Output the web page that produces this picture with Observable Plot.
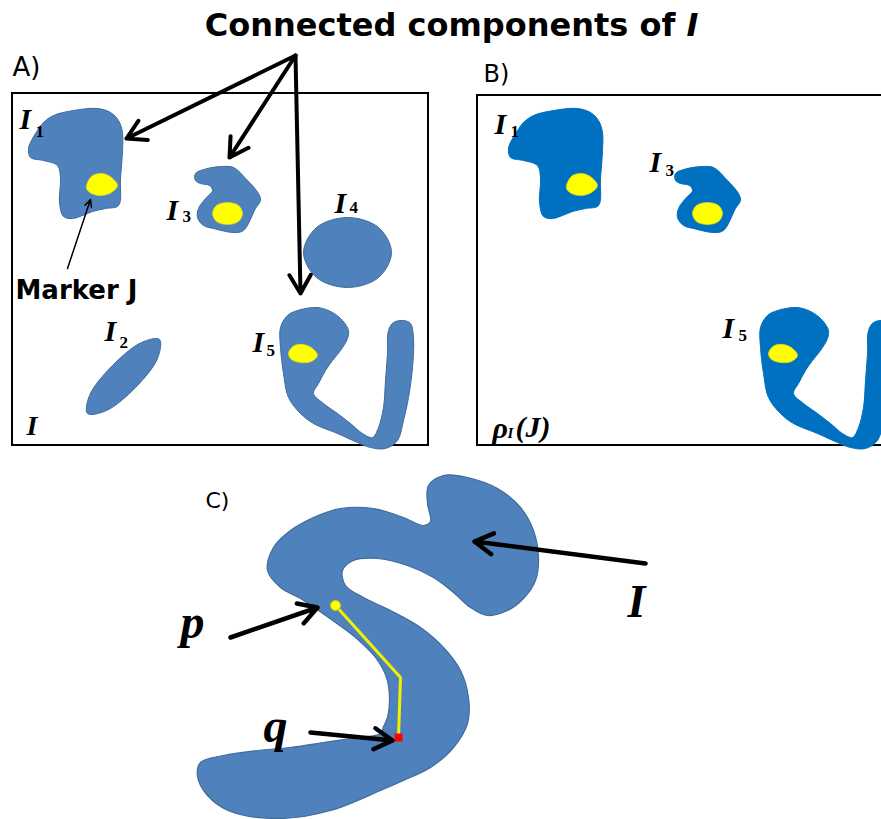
<!DOCTYPE html>
<html><head><meta charset="utf-8">
<script src="https://cdn.jsdelivr.net/npm/d3@7"></script>
<script src="https://cdn.jsdelivr.net/npm/@observablehq/plot@0.6"></script>
<style>html,body{margin:0;padding:0;background:#fff;} #chart svg{display:block;}</style>
</head><body><div id="chart"></div>
<script>
const W = 881, H = 819;

// ---- Panel A component outlines ----
const shapeI1 = [[37,130],[43,122],[53,115],[73,110],[97,108],[110,112],[118,120],[122,132],[122,150],[120,178],[118,205],[105,208],[92,211],[82,215],[72,218],[63,216],[59,202],[60,178],[57,165],[43,160],[30,157],[28,148],[32,138]];
const shapeI2 = [[159,339],[157,358],[135,387],[106,410],[87,413],[89,395],[112,365],[141,342]];
const shapeI3 = [[195,173],[207,168],[222,166],[233,167],[247,180],[258,193],[260,200],[255,208],[243,230],[233,232],[213,228],[203,225],[197,217],[198,208],[205,198],[212,190],[209,185],[200,183],[195,180]];
const shapeI4 = [[303,252],[316,227],[347,217],[378,227],[391,252],[378,277],[347,287],[316,277]];
const shapeI5 = [[297,310],[317,307],[332,312],[342,320],[348,330],[347,338],[340,350],[332,360],[325,370],[318,383],[313,393],[323,403],[337,413],[350,423],[362,433],[372,437],[378,427],[383,407],[385,380],[387,353],[388,330],[393,322],[403,320],[410,323],[413,337],[412,367],[408,397],[403,420],[397,440],[385,448],[370,447],[357,442],[337,433],[313,423],[300,413],[288,397],[283,373],[280,347],[280,327],[287,315]];
// markers J (yellow)
const markerJ1 = [[87,182],[92,175],[102,173],[111,177],[117,185],[111,192],[101,195],[91,193],[86,188]];
const markerJ3 = [[212,213],[216,205],[227,202],[238,205],[242,213],[238,221],[227,224],[216,221]];
const markerJ5 = [[289,350],[294,345],[303,344],[312,348],[317,355],[311,361],[300,362],[291,359],[288,354]];
// Panel B shows I1, I3, I5 shifted right
const panelBShift = 480;

// ---- Panel C: S-shaped component ----
const shapeS = [[267,570],[273,547],[290,530],[313,517],[340,508],[373,508],[403,517],[423,525],[430,521],[427,503],[428,485],[443,475],[467,477],[497,488],[520,507],[533,530],[538,557],[535,580],[523,598],[507,610],[487,615],[470,607],[453,592],[433,577],[407,565],[377,558],[353,560],[342,570],[345,585],[363,597],[390,610],[420,627],[443,647],[460,670],[468,697],[467,723],[453,747],[430,767],[403,780],[380,790],[330,810],[280,818],[230,811],[207,795],[197,776],[200,762],[223,755],[257,750],[290,747],[323,742],[357,737],[380,733],[383,726],[387,717],[389,697],[386,677],[375,657],[355,637],[335,622],[318,610],[300,598],[280,587]];
const pathPQ = [[335,605],[400,677],[398,737]];
const pointP = [[335,605]];
const pointQ = [[398,737]];

// ---- boxes, arrows, texts ----
const boxes = [{x1:12,y1:93,x2:428,y2:445},{x1:477,y1:95,x2:895,y2:445}];
const titleArrows = [{x1:295,y1:55,x2:126,y2:138},{x1:295,y1:55,x2:229,y2:157},{x1:295,y1:55,x2:300,y2:293}];
const markerArrow = [{x1:67,y1:268,x2:90,y2:199}];
const cArrows = [{x1:645,y1:563,x2:474,y2:541},{x1:230,y1:637,x2:317,y2:607},{x1:310,y1:732,x2:392,y2:740}];

const title = [{x:686,y:25,text:"Connected components of "}];
const titleItalic = [{x:686,y:25,text:"I"}];
const panelLetters = [{x:12,y:67,text:"A)",size:26},{x:483,y:74,text:"B)",size:24},{x:205,y:500,text:"C)",size:22}];
const markerText = [{x:15,y:290,text:"Marker J"}];
const compLabels = [
  {x:19,y:119,text:"I",sub:"1",sx:35,sy:131},
  {x:104,y:331,text:"I",sub:"2",sx:119,sy:342},
  {x:166,y:210,text:"I",sub:"3",sx:182,sy:216},
  {x:334,y:203,text:"I",sub:"4",sx:349,sy:207},
  {x:252,y:342,text:"I",sub:"5",sx:266,sy:350},
  {x:494,y:124,text:"I",sub:"1",sx:510,sy:131},
  {x:649,y:162,text:"I",sub:"3",sx:665,sy:170},
  {x:722,y:328,text:"I",sub:"5",sx:738,sy:335}
];
const bigLabels = [{x:26,y:426,text:"I",size:28},{x:627,y:602,text:"I",size:46},{x:180,y:622,text:"p",size:48},{x:263,y:726,text:"q",size:48}];
const rhoLabel = [{x:492,y:428,text:"ρ",size:30},{x:507,y:433,text:"I",size:15},{x:515,y:427,text:"(J)",size:30}];

const pts = (name, arr, shift = 0) => arr.map(([x, y]) => ({shape: name, x: x + shift, y}));
const compA = [...pts("I1", shapeI1), ...pts("I2", shapeI2), ...pts("I3", shapeI3), ...pts("I4", shapeI4), ...pts("I5", shapeI5)];
const markA = [...pts("J1", markerJ1), ...pts("J3", markerJ3), ...pts("J5", markerJ5)];
const compB = [...pts("I1", shapeI1, panelBShift), ...pts("I3", shapeI3, panelBShift), ...pts("I5", shapeI5, panelBShift)];
const markB = [...pts("J1", markerJ1, panelBShift), ...pts("J3", markerJ3, panelBShift), ...pts("J5", markerJ5, panelBShift)];
const sPts = pts("S", shapeS);
const xy = arr => arr.map(([x, y]) => ({x, y}));

const serif = "'Liberation Serif', 'DejaVu Serif', serif";
const sans = "'DejaVu Sans', 'Liberation Sans', sans-serif";

const plot = Plot.plot({
  width: W, height: H, margin: 0,
  x: {domain: [0, W], range: [0, W], axis: null},
  y: {domain: [0, H], range: [0, H], axis: null},
  style: {background: "#fff", overflow: "hidden"},
  marks: [
    Plot.rect(boxes, {x1: "x1", x2: "x2", y1: "y1", y2: "y2", fill: "none", stroke: "black", strokeWidth: 2}),
    Plot.line(compA, {x: "x", y: "y", z: "shape", curve: "catmull-rom-closed", fill: "#4f81bd", stroke: "#3f6c9e", strokeWidth: 1}),
    Plot.line(markA, {x: "x", y: "y", z: "shape", curve: "catmull-rom-closed", fill: "#ffff00", stroke: "#d8d820", strokeWidth: 0.8}),
    Plot.line(compB, {x: "x", y: "y", z: "shape", curve: "catmull-rom-closed", fill: "#0070c0", stroke: "#0070c0", strokeWidth: 1}),
    Plot.line(markB, {x: "x", y: "y", z: "shape", curve: "catmull-rom-closed", fill: "#ffff00", stroke: "#d8d820", strokeWidth: 0.8}),
    Plot.line(sPts, {x: "x", y: "y", z: "shape", curve: "catmull-rom-closed", fill: "#4f81bd", stroke: "#3f6c9e", strokeWidth: 1.2}),
    Plot.line(xy(pathPQ), {x: "x", y: "y", stroke: "#f2f200", strokeWidth: 3}),
    Plot.dot(xy(pointP), {x: "x", y: "y", r: 5, fill: "#ffff00", stroke: "#c9c900", strokeWidth: 1}),
    Plot.dot(xy(pointQ), {x: "x", y: "y", r: 4.5, symbol: "square", fill: "#ff0000"}),
    Plot.arrow(titleArrows, {x1: "x1", y1: "y1", x2: "x2", y2: "y2", stroke: "black", strokeWidth: 4, headLength: 8, headAngle: 60}),
    Plot.arrow(markerArrow, {x1: "x1", y1: "y1", x2: "x2", y2: "y2", stroke: "black", strokeWidth: 1.5, headLength: 8, headAngle: 50}),
    Plot.arrow(cArrows, {x1: "x1", y1: "y1", x2: "x2", y2: "y2", stroke: "black", strokeWidth: 4.5, headLength: 7, headAngle: 60}),
    Plot.text(title, {x: "x", y: "y", text: "text", fontSize: 32, fontWeight: "bold", fontFamily: sans, textAnchor: "end", fill: "black"}),
    Plot.text(titleItalic, {x: "x", y: "y", text: "text", fontSize: 32, fontWeight: "bold", fontStyle: "italic", fontFamily: sans, textAnchor: "start", fill: "black"}),
    Plot.text(panelLetters, {x: "x", y: "y", text: "text", fontSize: d => d.size, fontFamily: sans, textAnchor: "start", fill: "black"}),
    Plot.text(markerText, {x: "x", y: "y", text: "text", fontSize: 26, fontWeight: "bold", fontFamily: sans, textAnchor: "start", fill: "black"}),
    Plot.text(compLabels, {x: "x", y: "y", text: "text", fontSize: 30, fontWeight: "bold", fontStyle: "italic", fontFamily: serif, textAnchor: "start", fill: "black"}),
    Plot.text(compLabels, {x: "sx", y: "sy", text: "sub", fontSize: 17, fontWeight: "bold", fontFamily: serif, textAnchor: "start", fill: "black"}),
    Plot.text(bigLabels, {x: "x", y: "y", text: "text", fontSize: d => d.size, fontWeight: "bold", fontStyle: "italic", fontFamily: serif, textAnchor: "start", fill: "black"}),
    Plot.text(rhoLabel, {x: "x", y: "y", text: "text", fontSize: d => d.size, fontWeight: "bold", fontStyle: "italic", fontFamily: serif, textAnchor: "start", fill: "black"})
  ]
});
document.getElementById("chart").appendChild(plot);
</script>
</body></html>
